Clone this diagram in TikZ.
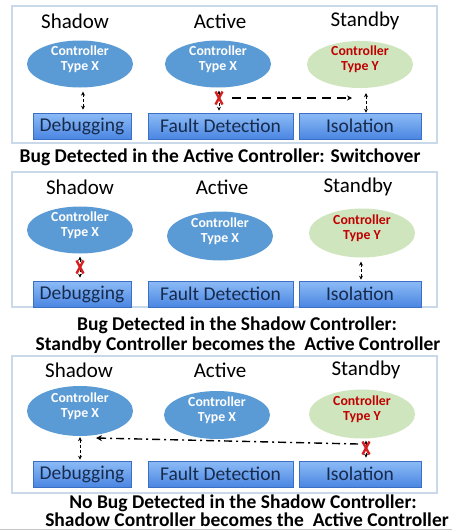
\documentclass[tikz,border=0pt]{standalone}
\usepackage{fontspec}
\setmainfont{Carlito}
\usetikzlibrary{shapes.geometric,arrows.meta}
\definecolor{ctrlblue}{HTML}{5B9BD5}
\definecolor{ctrlgreen}{HTML}{CFE5BE}
\definecolor{ctrlred}{HTML}{C00000}
\definecolor{boxtop}{HTML}{8DBBF6}
\definecolor{boxbot}{HTML}{4A86E2}
\definecolor{boxedge}{HTML}{3A6FC4}
\definecolor{boxtext}{HTML}{172B4D}
\definecolor{framecol}{HTML}{C9D9EA}
\definecolor{xred}{HTML}{D42020}
\tikzset{
  panel/.style={draw=framecol, line width=1.3pt},
  role/.style={font=\fontsize{21}{23}\selectfont, text=black, inner sep=0pt},
  ctrlx/.style={ellipse, fill=ctrlblue, draw=none, minimum width=106pt, minimum height=47pt, inner sep=0pt},
  ctrly/.style={ellipse, fill=ctrlgreen, draw=none, minimum width=106pt, minimum height=47pt, inner sep=0pt},
  ctxt/.style={font=\bfseries\fontsize{13.8}{15}\selectfont, align=center, inner sep=0pt, text=white},
  ctxty/.style={ctxt, text=ctrlred},
  funcbox/.style={rectangle, top color=boxtop, bottom color=boxbot, draw=boxedge, line width=0.6pt,
     minimum height=26pt, inner sep=0pt, text=boxtext, font=\fontsize{19.5}{21}\selectfont},
  dbl/.style={{Stealth[length=4pt,width=4pt]}-{Stealth[length=4pt,width=4pt]}, line width=1pt, dash pattern=on 3pt off 2pt},
  swarrow/.style={-{Stealth[length=5pt,width=5pt]}, line width=1.5pt, dash pattern=on 9pt off 6pt},
  dotarrow/.style={-{Stealth[length=6pt,width=6pt]}, line width=1.4pt, dash pattern=on 8pt off 4pt on 2pt off 4pt},
  caption/.style={font=\bfseries\fontsize{19.5}{21}\selectfont, inner sep=0pt, text=black, anchor=base},
  redcross/.pic={\draw[xred, line width=2.4pt] (-3.5,-6.5)--(3.5,6.5) (-3.5,6.5)--(3.5,-6.5);}
}
\begin{document}
\begin{tikzpicture}[x=1pt,y=-1pt]
\useasboundingbox (0,0) rectangle (452,531);
\fill[white] (0,0) rectangle (452,531);

% ---------- Panel 1 ----------
\draw[panel] (12,6) rectangle (437,143);
\node[role] (r1s) at (75,21) {Shadow};
\node[role] (r1a) at (220,21) {Active};
\node[role] (r1y) at (365,21) {Standby};
\node[ctrlx] (c1s) at (80,64) {};
\node[ctrlx] (c1a) at (218,64) {};
\node[ctrly] (c1y) at (360,64.5) {};
\node[ctxt] (t1s) at ([yshift=5pt]c1s.center) {Controller\\Type X};
\node[ctxt] (t1a) at ([yshift=5pt]c1a.center) {Controller\\Type X};
\node[ctxty] (t1y) at ([yshift=5pt]c1y.center) {Controller\\Type Y};
\node[funcbox, minimum width=98pt] (b1d) at (82,126) {Debugging};
\node[funcbox, minimum width=145pt] (b1f) at (220.5,126) {Fault Detection};
\node[funcbox, minimum width=122pt] (b1i) at (360,126) {Isolation};
\draw[dbl, shorten <=4pt, shorten >=3pt] ([xshift=3pt]c1s.south) -- ([xshift=3pt]c1s.south |- b1d.north);
\draw[dbl, shorten <=3pt, shorten >=2pt] ([xshift=1pt]c1a.south) -- ([xshift=1pt]c1a.south |- b1f.north);
\draw[dbl, shorten <=5pt, shorten >=0pt] ([xshift=6pt]c1y.south) -- ([xshift=6pt]c1y.south |- b1i.north);
\coordinate (x1) at (219,98);
\coordinate (e1) at (352,98);
\pic at (x1) {redcross};
\draw[swarrow] ([xshift=13pt]x1) -- (e1);
\node[caption] (cap1) at (220,162) {Bug Detected in the Active Controller: Switchover};

% ---------- Panel 2 ----------
\draw[panel] (12,172) rectangle (437,307);
\node[role] (r2s) at (80,187) {Shadow};
\node[role] (r2a) at (222,187) {Active};
\node[role] (r2y) at (358,187) {Standby};
\node[ctrlx] (c2s) at (80,230) {};
\node[ctrlx, minimum height=49pt] (c2a) at (220,236) {};
\node[ctrly, minimum height=49pt] (c2y) at (362,233) {};
\node[ctxt] (t2s) at ([yshift=5pt]c2s.center) {Controller\\Type X};
\node[ctxt] (t2a) at ([yshift=5pt]c2a.center) {Controller\\Type X};
\node[ctxty] (t2y) at ([yshift=5pt]c2y.center) {Controller\\Type Y};
\node[funcbox, minimum width=98pt] (b2d) at (82,294) {Debugging};
\node[funcbox, minimum width=145pt] (b2f) at (220.5,294) {Fault Detection};
\node[funcbox, minimum width=122pt] (b2i) at (360,294) {Isolation};
\draw[dbl, shorten <=3pt, shorten >=3pt] (c2s.south) -- (c2s.south |- b2d.north);
\draw[dbl, shorten <=4pt, shorten >=1pt] ([xshift=-1pt]c2y.south) -- ([xshift=-1pt]c2y.south |- b2i.north);
\coordinate (x2) at (80,267);
\pic at (x2) {redcross};
\node[caption] (cap2a) at (237,330) {Bug Detected in the Shadow Controller:};
\node[caption] (cap2b) at (238,350) {Standby Controller becomes the~ Active Controller};

% ---------- Panel 3 ----------
\draw[panel] (12,356) rectangle (437,493);
\node[role] (r3s) at (79,370) {Shadow};
\node[role] (r3a) at (220,370) {Active};
\node[role] (r3y) at (366,370) {Standby};
\node[ctrlx, minimum height=50pt] (c3s) at (80,411) {};
\node[ctrlx, minimum height=48pt] (c3a) at (217,415) {};
\node[ctrly, minimum height=49pt] (c3y) at (362,414) {};
\node[ctxt] (t3s) at ([yshift=5pt]c3s.center) {Controller\\Type X};
\node[ctxt] (t3a) at ([yshift=5pt]c3a.center) {Controller\\Type X};
\node[ctxty] (t3y) at ([yshift=5pt]c3y.center) {Controller\\Type Y};
\node[funcbox, minimum width=98pt] (b3d) at (82,474) {Debugging};
\node[funcbox, minimum width=145pt] (b3f) at (220.5,474) {Fault Detection};
\node[funcbox, minimum width=122pt] (b3i) at (360,474) {Isolation};
\draw[dbl, shorten <=1pt, shorten >=1pt] (c3s.south) -- (c3s.south |- b3d.north);
\draw[dbl, shorten <=2pt, shorten >=3pt] ([xshift=4pt]c3y.south) -- ([xshift=4pt]c3y.south |- b3i.north);
\coordinate (x3) at (366,448);
\coordinate (e3) at (96,438);
\pic at (x3) {redcross};
\draw[dotarrow] ([xshift=-8pt,yshift=4pt]x3) -- (e3);
\node[caption] (cap3a) at (243,508) {No Bug Detected in the Shadow Controller:};
\node[caption] (cap3b) at (247,526) {Shadow Controller becomes the~ Active Controller};
\draw[gray!45, line width=0.8pt] (0,529.5) -- (452,529.5);
\end{tikzpicture}
\end{document}
